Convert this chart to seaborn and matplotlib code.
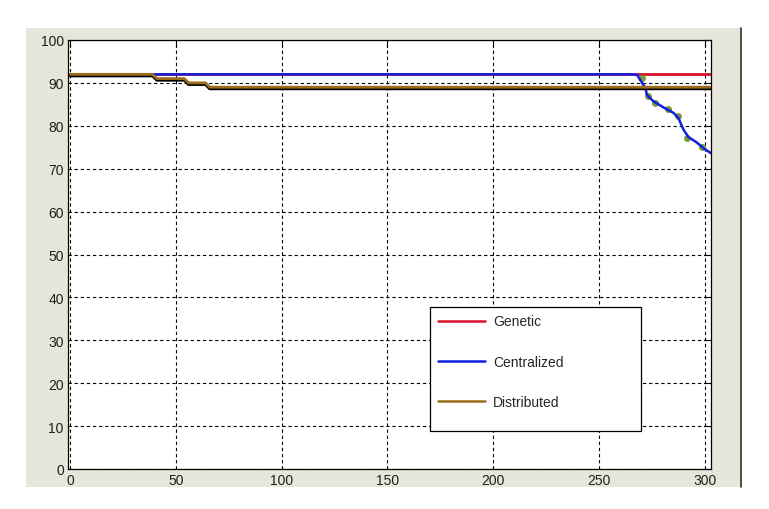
import numpy as np
import pandas as pd
import matplotlib
matplotlib.use('Agg')
import matplotlib.pyplot as plt
import matplotlib.patches as mpatches
import seaborn as sns

# data
genetic_x = [0, 303]
genetic_y = [92, 92]

central_x = [0, 264, 268, 269.5, 272, 272.7, 275.8, 280.5, 285.3, 287.6, 290, 292.3, 296.3, 299.4, 303]
central_y = [92, 92, 91.9, 90.7, 88.8, 87.2, 85.7, 84.3, 83.0, 81.8, 79.1, 77.4, 76.1, 74.8, 73.6]

distrib_x = [0, 39, 41, 54, 56, 64, 66, 303]
distrib_y = [92, 92, 91, 91, 90, 90, 89, 89]

# greenish markers peeking out along the centralized curve
dots_x = [270.3, 273, 276.6, 282.9, 287.6, 291.6, 298.7]
dots_y = [91.1, 87.0, 85.4, 83.9, 82.2, 77.1, 75.0]

xticks = [0, 50, 100, 150, 200, 250, 300]
yticks = [0, 10, 20, 30, 40, 50, 60, 70, 80, 90, 100]

red = '#d8102a'
blue = '#1020e0'
brown = '#9c6b1e'

sns.set_style("white")
plt.rcParams['font.family'] = ['Liberation Sans', 'DejaVu Sans']

fig = plt.figure(figsize=(7.69, 5.10), dpi=100)
fig.patch.set_facecolor('white')
# grey matlab-style figure panel
fig.patches.append(mpatches.Rectangle((26/769, 1-488/510), (741-26)/769, (488-29)/510,
                                      transform=fig.transFigure, facecolor='#e6e6da',
                                      edgecolor='none', zorder=-10))
fig.lines.append(plt.Line2D([741/769, 741/769], [1-488/510, 1-29/510], transform=fig.transFigure,
                            color='#303030', lw=1.2, zorder=-9))

ax = fig.add_axes([68/769, 1-470/510, (711-68)/769, (470-41)/510])
ax.set_facecolor('white')

sns.lineplot(x=genetic_x, y=genetic_y, color=red, lw=2, ax=ax, label='Genetic')
ax.plot(dots_x, dots_y, 'o', color='#7d9a3a', ms=4)
sns.lineplot(x=central_x, y=central_y, color=blue, lw=1.8, ax=ax, label='Centralized')
sns.lineplot(x=distrib_x, y=[v - 0.35 for v in distrib_y], color='black', lw=2.2, ax=ax)
sns.lineplot(x=distrib_x, y=distrib_y, color=brown, lw=2, ax=ax, label='Distributed')

ax.set_xlim(-1, 303)
ax.set_ylim(0, 100)
ax.set_xticks(xticks)
ax.set_yticks(yticks)
ax.grid(True, color='black', linestyle=(0, (3, 2.5)), linewidth=0.8)
ax.tick_params(direction='in', length=5, width=0.8, top=True, right=True,
               labelsize=10, colors='black', labelcolor='#202020', pad=3)
for s in ax.spines.values():
    s.set_visible(True)
    s.set_color('black')
    s.set_linewidth(0.9)
ax.set_xlabel('')
ax.set_ylabel('')

# legend box
ax.add_patch(mpatches.Rectangle((0.563, 0.089), 0.328, 0.289, transform=ax.transAxes,
                                facecolor='white', edgecolor='black', lw=0.9, zorder=5))
leg = ax.legend(loc='upper left', bbox_to_anchor=(0.563, 0.378), frameon=False,
                fontsize=10, handlelength=3.4, labelspacing=1.9, handletextpad=0.6,
                borderpad=0.55, borderaxespad=0)
leg.set_zorder(6)
for h in leg.get_lines():
    h.set_linewidth(1.8)

fig.savefig('out.png', dpi=100)
